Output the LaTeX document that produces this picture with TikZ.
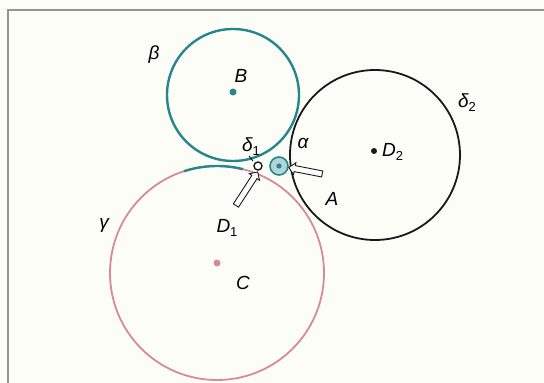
\documentclass[tikz,border=0pt]{standalone}
\usepackage{fontspec}
\setmainfont{Liberation Sans}
\usepackage{tikz}
\usetikzlibrary{arrows.meta,shapes.arrows,calc}
\definecolor{Teal}{RGB}{38,134,138}
\definecolor{Rose}{RGB}{214,138,155}
\definecolor{Ink}{RGB}{25,25,25}
\definecolor{Frame}{RGB}{150,150,145}
\definecolor{Paper}{RGB}{253,253,248}
\newcommand{\sub}[1]{\raisebox{-4pt}{\fontsize{13}{13}\selectfont\upshape #1}}

\begin{document}
\begin{tikzpicture}[x=1pt,y=-1pt,
  lbl/.style={font=\fontsize{19}{21}\selectfont\itshape,inner sep=1pt},
  hollow/.style={draw=Ink,fill=white,line width=0.9pt,single arrow,minimum width=11pt,
    single arrow head extend=3pt,single arrow head indent=0pt,inner sep=2.6pt}]
  \useasboundingbox (0,0) rectangle (544,383);
  \fill[Paper] (0,0) rectangle (544,383);
  \draw[Frame,line width=1.6pt] (8,383) -- (8,10) -- (544,10);

  % the three big circles
  \coordinate (B) at (233,92);
  \coordinate (C) at (217,263);
  \coordinate (D2) at (374,151);
  \draw[Rose,line width=1.8pt] (217,273) circle (107pt);
  \draw[Ink,line width=1.8pt] (375,155) circle (85pt);
  \draw[Teal,line width=2.4pt] (233,95) circle (66pt);
  \draw[Teal,line width=2.4pt] (217,273) ++(108:107pt) arc[start angle=108,end angle=76,radius=107pt];

  % small circles at the meeting point
  \coordinate (Aa) at (279,166);
  \draw[Teal,line width=1.6pt,fill=Teal!35] (Aa) circle (9pt);
  \fill[Teal] (Aa) circle (2.6pt);
  \coordinate (D1) at (258,166);
  \draw[Ink,line width=1.4pt,fill=white] (D1) circle (4pt);
  \draw[Ink,line width=0.9pt] (249,156) -- (253,161);

  \fill[Teal] (B) circle (3.5pt);
  \fill[Rose] (C) circle (3.5pt);
  \fill[Ink] (D2) circle (3pt);

  % hollow pointers
  \node[hollow,minimum height=40pt,rotate=57] (arrD) at (246,190) {};
  \node[hollow,minimum height=34pt,rotate=169] (arrA) at (307,171) {};

  \node[lbl] (lbeta) at (154,55) {β};
  \node[lbl] (lB) at (241,76) {B};
  \node[lbl] (lgamma) at (104,225) {γ};
  \node[lbl] (lC) at (243,283) {C};
  \node[lbl] (ldelta1) at (251,147) {δ\sub{1}};
  \node[lbl] (lalpha) at (303,143) {α};
  \node[lbl] (lD1) at (227,228) {D\sub{1}};
  \node[lbl] (lA) at (332,199) {A};
  \node[lbl,anchor=west] (lD2) at (381,152) {D\sub{2}};
  \node[lbl] (ldelta2) at (467,103) {δ\sub{2}};
\end{tikzpicture}
\end{document}
